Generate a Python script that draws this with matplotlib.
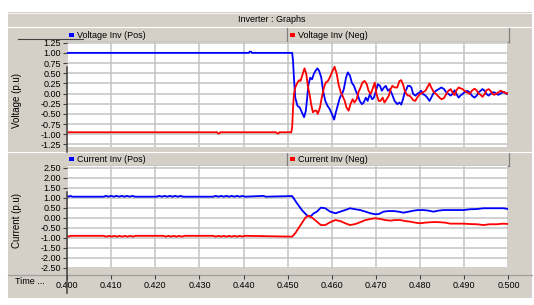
import matplotlib
matplotlib.use("Agg")
import matplotlib.pyplot as plt
from matplotlib.patches import Rectangle
from matplotlib.ticker import FixedLocator, FormatStrFormatter

plt.rcParams['font.family'] = ['Liberation Sans', 'DejaVu Sans']

# ---------------- data ----------------
title = "Inverter : Graphs"
x_ticks = [0.400, 0.410, 0.420, 0.430, 0.440, 0.450, 0.460, 0.470, 0.480, 0.490, 0.500]
v_ticks = [-1.25, -1.00, -0.75, -0.50, -0.25, 0.00, 0.25, 0.50, 0.75, 1.00, 1.25]
i_ticks = [-2.50, -2.00, -1.50, -1.00, -0.50, 0.00, 0.50, 1.00, 1.50, 2.00, 2.50]

# Voltage Inv (Pos)
v_pos_t = [0.4000, 0.4412, 0.4414, 0.4417, 0.4419, 0.4510, 0.4512, 0.4514, 0.4517, 0.4522, 0.4527,
           0.4532, 0.4537, 0.4541, 0.4544, 0.4547, 0.4551, 0.4555, 0.4559, 0.4563, 0.4567,
           0.4571, 0.4576, 0.4580, 0.4585, 0.4590, 0.4595, 0.4600, 0.4605, 0.4609, 0.4614,
           0.4618, 0.4623, 0.4627, 0.4632, 0.4636, 0.4641, 0.4645, 0.4650, 0.4654, 0.4659,
           0.4663, 0.4668, 0.4672, 0.4677, 0.4681, 0.4686, 0.4691, 0.4695, 0.4700, 0.4704,
           0.4709, 0.4713, 0.4718, 0.4722, 0.4727, 0.4731, 0.4736, 0.4742, 0.4748, 0.4753,
           0.4757, 0.4761, 0.4765, 0.4769, 0.4772, 0.4776, 0.4780, 0.4784, 0.4789, 0.4793,
           0.4799, 0.4802, 0.4806, 0.4812, 0.4816, 0.4821, 0.4825, 0.4831, 0.4836, 0.4842,
           0.4848, 0.4854, 0.4859, 0.4864, 0.4869, 0.4873, 0.4878, 0.4882, 0.4887, 0.4891,
           0.4896, 0.4900, 0.4906, 0.4912, 0.4917, 0.4923, 0.4928, 0.4932, 0.4937, 0.4941,
           0.4946, 0.4950, 0.4955, 0.4959, 0.4964, 0.4968, 0.4973, 0.4977, 0.4982, 0.4986,
           0.4991, 0.4996, 0.5000]
v_pos = [1.00, 1.00, 1.03, 1.03, 1.00, 1.00, 0.80, 0.39, -0.10, -0.30, -0.34,
         -0.46, -0.58, -0.42, -0.10, 0.23, 0.39, 0.35, 0.48, 0.56, 0.62,
         0.56, 0.39, 0.07, -0.18, -0.30, -0.38, -0.50, -0.64, -0.46, -0.26,
         -0.10, -0.01, 0.11, 0.39, 0.52, 0.44, 0.27, 0.19, 0.07, -0.05,
         -0.18, -0.26, -0.22, -0.10, -0.18, -0.01, -0.14, -0.10, 0.07, 0.23,
         0.19, 0.07, 0.15, 0.19, 0.07, 0.11, -0.01, -0.18, -0.26, -0.22,
         -0.27, -0.14, 0.03, 0.11, 0.19, 0.19, 0.15, -0.01, -0.05, -0.01,
         0.03, 0.07, -0.01, -0.05, -0.10, -0.18, -0.10, 0.03, 0.07, 0.11,
         0.15, 0.11, 0.03, -0.01, -0.05, -0.01, 0.08, -0.01, -0.10, -0.05,
         -0.01, 0.03, 0.07, 0.03, -0.05, -0.10, -0.05, 0.03, 0.07, 0.11,
         0.07, -0.01, -0.05, -0.01, 0.03, 0.03, -0.01, -0.03, 0.00, 0.03,
         0.03, -0.01, 0.01]

# Voltage Inv (Neg)
v_neg_t = [0.4000, 0.4340, 0.4342, 0.4345, 0.4347, 0.4474, 0.4476, 0.4479, 0.4481, 0.4508,
           0.4510, 0.4512, 0.4514, 0.4517, 0.4522, 0.4526, 0.4529, 0.4535, 0.4538, 0.4542,
           0.4546, 0.4550, 0.4553, 0.4557, 0.4561, 0.4565, 0.4568, 0.4573, 0.4577, 0.4582,
           0.4586, 0.4591, 0.4595, 0.4600, 0.4606, 0.4611, 0.4615, 0.4620, 0.4624, 0.4629,
           0.4633, 0.4638, 0.4642, 0.4647, 0.4651, 0.4656, 0.4660, 0.4665, 0.4669, 0.4674,
           0.4679, 0.4683, 0.4688, 0.4692, 0.4697, 0.4701, 0.4706, 0.4710, 0.4715, 0.4719,
           0.4724, 0.4729, 0.4733, 0.4737, 0.4742, 0.4748, 0.4753, 0.4757, 0.4761, 0.4765,
           0.4769, 0.4772, 0.4776, 0.4780, 0.4784, 0.4789, 0.4793, 0.4799, 0.4802, 0.4806,
           0.4812, 0.4816, 0.4821, 0.4825, 0.4831, 0.4836, 0.4842, 0.4848, 0.4854, 0.4859,
           0.4864, 0.4869, 0.4873, 0.4878, 0.4882, 0.4887, 0.4891, 0.4896, 0.4900, 0.4906,
           0.4912, 0.4917, 0.4923, 0.4928, 0.4932, 0.4937, 0.4941, 0.4946, 0.4950, 0.4955,
           0.4959, 0.4964, 0.4968, 0.4973, 0.4977, 0.4982, 0.4986, 0.4991, 0.4996, 0.5000]
v_neg = [-0.95, -0.95, -0.98, -0.98, -0.95, -0.95, -0.98, -0.98, -0.95, -0.95,
         -0.83, -0.34, -0.01, 0.15, 0.27, 0.33, 0.31, 0.52, 0.62, 0.48,
         0.15, -0.05, -0.26, -0.46, -0.42, -0.42, -0.50, -0.34, -0.10, 0.15,
         0.27, 0.31, 0.39, 0.52, 0.66, 0.48, 0.23, 0.03, -0.05, -0.18,
         -0.34, -0.42, -0.26, -0.14, -0.22, -0.14, 0.03, 0.15, 0.27, 0.31,
         0.23, 0.07, -0.01, 0.11, 0.27, -0.01, -0.18, -0.18, -0.10, -0.22,
         -0.14, -0.05, 0.11, 0.19, 0.15, 0.15, 0.31, 0.33, 0.23, 0.07,
         -0.01, -0.05, -0.05, -0.10, -0.16, -0.18, -0.10, -0.01, 0.00, 0.03,
         0.07, 0.15, 0.25, 0.15, 0.03, -0.01, -0.08, -0.14, -0.11, -0.01,
         0.07, 0.11, 0.03, -0.04, 0.08, 0.15, 0.13, 0.11, 0.07, 0.03,
         -0.01, 0.07, 0.12, 0.08, 0.00, -0.03, -0.08, -0.01, 0.08, 0.11,
         0.07, -0.01, -0.03, 0.00, 0.03, 0.07, 0.05, 0.03, 0.00, 0.02]

# Current Inv (Pos)
i_pos_t = [0.4000, 0.4004, 0.4008, 0.4012, 0.4083, 0.4088, 0.4094, 0.4100, 0.4106, 0.4112,
           0.4118, 0.4124, 0.4130, 0.4136, 0.4142, 0.4148, 0.4154, 0.4203, 0.4209, 0.4215,
           0.4221, 0.4227, 0.4233, 0.4239, 0.4245, 0.4251, 0.4257, 0.4263, 0.4269, 0.4331,
           0.4337, 0.4343, 0.4349, 0.4355, 0.4361, 0.4367, 0.4373, 0.4379, 0.4385, 0.4391,
           0.4397, 0.4403, 0.4445, 0.4450, 0.4510, 0.4521, 0.4532, 0.4544, 0.4551, 0.4559,
           0.4566, 0.4575, 0.4585, 0.4596, 0.4608, 0.4619, 0.4630, 0.4641, 0.4653, 0.4664,
           0.4676, 0.4687, 0.4698, 0.4706, 0.4717, 0.4728, 0.4740, 0.4751, 0.4762, 0.4774,
           0.4785, 0.4796, 0.4808, 0.4819, 0.4830, 0.4841, 0.4853, 0.4868, 0.4883, 0.4898,
           0.4913, 0.4928, 0.4943, 0.4958, 0.4973, 0.4989, 0.5000]
i_pos = [1.08, 1.05, 1.09, 1.05, 1.05, 1.09, 1.05, 1.09, 1.05, 1.09,
         1.05, 1.09, 1.05, 1.09, 1.05, 1.09, 1.05, 1.05, 1.09, 1.05,
         1.09, 1.05, 1.09, 1.05, 1.09, 1.05, 1.09, 1.05, 1.05, 1.05,
         1.09, 1.05, 1.09, 1.05, 1.09, 1.05, 1.09, 1.05, 1.09, 1.05,
         1.09, 1.05, 1.09, 1.05, 1.08, 0.72, 0.38, 0.10, 0.05, 0.22,
         0.30, 0.50, 0.47, 0.30, 0.22, 0.30, 0.38, 0.47, 0.42, 0.38,
         0.30, 0.22, 0.17, 0.18, 0.30, 0.33, 0.33, 0.30, 0.25, 0.30,
         0.35, 0.38, 0.38, 0.35, 0.30, 0.35, 0.38, 0.38, 0.38, 0.38,
         0.42, 0.43, 0.47, 0.47, 0.47, 0.47, 0.43]

# Current Inv (Neg)
i_neg_t = [0.4000, 0.4004, 0.4008, 0.4012, 0.4083, 0.4089, 0.4095, 0.4101, 0.4107, 0.4113,
           0.4119, 0.4125, 0.4131, 0.4137, 0.4143, 0.4149, 0.4155, 0.4218, 0.4224, 0.4230,
           0.4236, 0.4242, 0.4248, 0.4254, 0.4260, 0.4266, 0.4331, 0.4337, 0.4343, 0.4349,
           0.4355, 0.4361, 0.4367, 0.4373, 0.4379, 0.4385, 0.4391, 0.4397, 0.4403, 0.4510,
           0.4517, 0.4529, 0.4540, 0.4547, 0.4555, 0.4566, 0.4575, 0.4585, 0.4596, 0.4608,
           0.4619, 0.4630, 0.4641, 0.4653, 0.4664, 0.4676, 0.4687, 0.4698, 0.4710, 0.4721,
           0.4732, 0.4743, 0.4755, 0.4766, 0.4777, 0.4789, 0.4800, 0.4811, 0.4823, 0.4834,
           0.4845, 0.4857, 0.4868, 0.4883, 0.4898, 0.4913, 0.4928, 0.4943, 0.4958, 0.4973,
           0.4989, 0.5000]
i_neg = [-0.91, -0.95, -0.91, -0.91, -0.91, -0.95, -0.91, -0.95, -0.91, -0.95,
         -0.91, -0.95, -0.91, -0.95, -0.91, -0.95, -0.91, -0.91, -0.95, -0.91,
         -0.95, -0.91, -0.95, -0.91, -0.95, -0.91, -0.91, -0.95, -0.91, -0.95,
         -0.91, -0.95, -0.91, -0.95, -0.91, -0.95, -0.91, -0.95, -0.91, -0.95,
         -0.78, -0.37, 0.00, 0.10, 0.00, -0.20, -0.37, -0.37, -0.23, -0.12,
         -0.17, -0.28, -0.37, -0.32, -0.23, -0.12, -0.07, -0.03, -0.07, -0.12,
         -0.15, -0.12, -0.12, -0.17, -0.20, -0.25, -0.28, -0.25, -0.23, -0.22,
         -0.23, -0.25, -0.30, -0.30, -0.30, -0.32, -0.33, -0.37, -0.33, -0.33,
         -0.30, -0.32]

legend_top = ["Voltage Inv (Pos)", "Voltage Inv (Neg)"]
legend_bot = ["Current Inv (Pos)", "Current Inv (Neg)"]
ylabel_top = "Voltage (p.u)"
ylabel_bot = "Current (p.u)"
xlabel = "Time ..."

# ---------------- layout ----------------
W, H = 534, 305
fig = plt.figure(figsize=(W / 100, H / 100), dpi=100, facecolor='white')

def rect(x0, y0, x1, y1):
    return [x0 / W, 1 - y1 / H, (x1 - x0) / W, (y1 - y0) / H]

GRAY = '#d4d0c8'
DARK = '#404040'
BLUE = '#0000ff'
RED = '#ff0000'
GRID = '#c4c4c4'
FS = 6.5

bg = fig.add_axes([0, 0, 1, 1], zorder=0)
bg.set_xlim(0, W)
bg.set_ylim(H, 0)
bg.axis('off')

bg.add_patch(Rectangle((8, 12), 524, 286, facecolor=GRAY, edgecolor='none'))
bg.plot([8, 532], [12.5, 12.5], color='white', lw=0.6)
bg.plot([8, 532], [27, 27], color='white', lw=0.8)
bg.text(272, 19.5, title, ha='center', va='center', fontsize=FS)

XL, XR = 67, 508.5
# legend strips
for (y0, y1, labels) in [(28, 42, legend_top), (152.5, 166, legend_bot)]:
    bg.add_patch(Rectangle((XL, y0), XR - XL, y1 - y0, facecolor=GRAY, edgecolor='none'))
    bg.plot([XL, XR], [y1 - 0.5, y1 - 0.5], color='#808080', lw=0.9)
    bg.plot([XR, XR], [y0, y1], color='#808080', lw=0.9)
    bg.plot([286.5, 286.5], [y0, y1], color='#808080', lw=0.9)
    yc = (y0 + y1) / 2 + 0.5
    for xs, col, lab in [(68.5, BLUE, labels[0]), (289.5, RED, labels[1])]:
        bg.add_patch(Rectangle((xs, yc - 2.5), 5, 3.5, facecolor=col, edgecolor='none'))
        bg.text(xs + 8.5, yc, lab, ha='left', va='center', fontsize=FS)

bg.plot([8, 532], [151.5, 151.5], color='white', lw=0.8)
bg.plot([18, 83], [39, 39], color=DARK, lw=0.8)

# x axis line & label
bg.plot([8, 532], [275, 275], color='#a0a0a0', lw=0.9)
bg.text(15, 281.5, xlabel, ha='left', va='center', fontsize=FS)

# y labels
bg.text(17, 100, ylabel_top, ha='center', va='center', rotation=90, fontsize=7)
bg.text(17, 220, ylabel_bot, ha='center', va='center', rotation=90, fontsize=7)

def style(ax, ticks, ylim):
    ax.set_facecolor('white')
    ax.set_xlim(0.4, 0.5)
    ax.set_ylim(*ylim)
    ax.xaxis.set_major_locator(FixedLocator(x_ticks))
    ax.yaxis.set_major_locator(FixedLocator(ticks))
    ax.yaxis.set_major_formatter(FormatStrFormatter('%.2f'))
    ax.grid(True, color=GRID, lw=1.1)
    ax.set_axisbelow(True)
    for s in ax.spines.values():
        s.set_visible(False)
    ax.tick_params(axis='y', direction='out', length=3, width=0.8, color=DARK,
                   labelsize=FS, pad=1.5)
    ax.tick_params(axis='x', length=0, labelbottom=False)

ax1 = fig.add_axes(rect(XL, 42, XR, 146.5), zorder=1)
style(ax1, v_ticks, (-1.30, 1.267))
ax1.plot(v_pos_t, v_pos, color=BLUE, lw=1.3)
ax1.plot(v_neg_t, v_neg, color=RED, lw=1.3)

ax2 = fig.add_axes(rect(XL, 166, XR, 268), zorder=1)
style(ax2, i_ticks, (-2.52, 2.585))
ax2.plot(i_pos_t, i_pos, color=BLUE, lw=1.3)
ax2.plot(i_neg_t, i_neg, color=RED, lw=1.3)

# x tick axis
axx = fig.add_axes(rect(XL, 274, XR, 275), zorder=1)
axx.set_xlim(0.4, 0.5)
axx.patch.set_visible(False)
for s in axx.spines.values():
    s.set_visible(False)
axx.set_yticks([])
axx.xaxis.set_major_locator(FixedLocator(x_ticks))
axx.xaxis.set_major_formatter(FormatStrFormatter('%.3f'))
axx.tick_params(axis='x', direction='out', length=3, width=0.8, color=DARK,
                labelsize=FS, pad=1.5)

# cursor line at left
fg = fig.add_axes([0, 0, 1, 1], zorder=5)
fg.set_xlim(0, W)
fg.set_ylim(H, 0)
fg.axis('off')
fg.plot([67, 67], [67, 152], color=DARK, lw=1.1)
fg.plot([67, 67], [192, 293], color=DARK, lw=1.1)

fig.savefig('out.png', dpi=100, facecolor='white')
